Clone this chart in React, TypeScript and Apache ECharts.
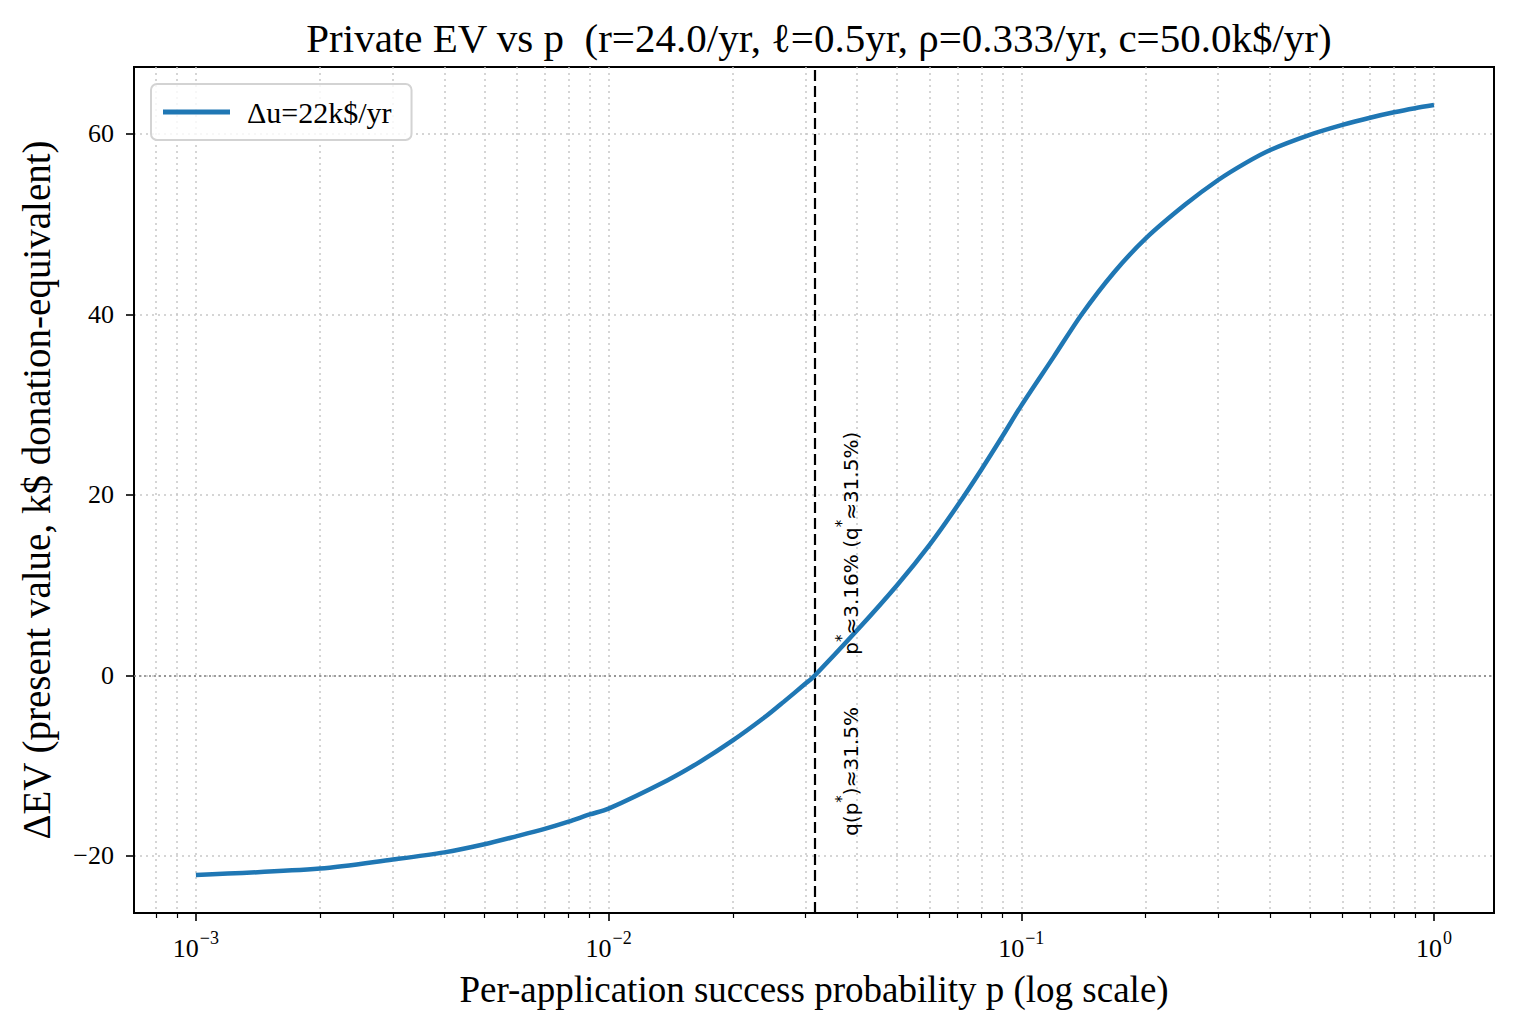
import React, { useEffect, useRef } from 'react';
import * as echarts from 'echarts';

// success probability p and ΔEV (k$)
const P_VALUES = [
  0.001, 0.002, 0.003, 0.004, 0.005, 0.006, 0.007, 0.008, 0.009, 0.01,
  0.0139, 0.0166, 0.02, 0.0241, 0.0266, 0.03, 0.0316, 0.04, 0.05, 0.06,
  0.07, 0.08, 0.09, 0.1, 0.1198, 0.14, 0.1673, 0.2, 0.25, 0.3, 0.35, 0.4,
  0.5, 0.6, 0.7, 0.8, 0.9, 1.0,
];
const DEV_VALUES = [
  -22.1, -21.4, -20.4, -19.6, -18.7, -17.8, -17.0, -16.2, -15.4, -14.75,
  -11.6, -9.6, -7.2, -4.5, -2.9, -0.9, 0.0, 5.0, 10.0, 14.5,
  18.8, 22.8, 26.5, 29.9, 35.3, 40.0, 44.6, 48.4, 52.2, 54.9, 56.8, 58.2,
  59.9, 61.0, 61.8, 62.4, 62.85, 63.2,
];

const SERIES_NAME = 'Δu=22k$/yr';
const X_MAJOR = [0.001, 0.01, 0.1, 1];
const X_MAJOR_EXP = ['−3', '−2', '−1', '0'];
const X_MINOR = [
  0.0008, 0.0009,
  0.002, 0.003, 0.004, 0.005, 0.006, 0.007, 0.008, 0.009,
  0.02, 0.03, 0.04, 0.05, 0.06, 0.07, 0.08, 0.09,
  0.2, 0.3, 0.4, 0.5, 0.6, 0.7, 0.8, 0.9,
];
const Y_TICKS = [-20, 0, 20, 40, 60];
const P_STAR = 0.0316;
const LABEL_P = 0.038;
const LABEL_UP_Y = 2.3;
const LABEL_DOWN_Y = -3.5;

const X_MIN = -3.15;
const X_MAX = 0.1454;
const Y_MIN = -26.32;
const Y_MAX = 67.42;

const SERIF = '"Liberation Serif", "DejaVu Serif", serif';
const BLUE = '#1f77b4';

const App: React.FC = () => {
  const chartRef = useRef<HTMLDivElement>(null);

  useEffect(() => {
    if (!chartRef.current) return;
    const chart = echarts.init(chartRef.current, undefined, { renderer: 'svg' });

    const gridLine = { show: true, lineStyle: { color: '#c8c8c8', width: 1.5, type: [2, 4] as number[] } };
    const minorLog = X_MINOR.map((p) => Math.log10(p));
    const majorLog = X_MAJOR.map((p) => Math.log10(p));

    const option = {
      animation: false,
      backgroundColor: '#ffffff',
      title: {
        text: 'Private EV vs p  (r=24.0/yr, ℓ=0.5yr, ρ=0.333/yr, c=50.0k$/yr)',
        left: 814,
        textAlign: 'center',
        top: 12,
        textStyle: { fontFamily: SERIF, fontSize: 41, fontWeight: 'normal', color: '#000' },
      },
      legend: {
        data: [SERIES_NAME],
        left: 151,
        top: 84,
        padding: [13, 20, 13, 12],
        itemWidth: 67,
        itemHeight: 5,
        itemGap: 10,
        icon: 'rect',
        borderColor: '#d3d3d3',
        borderWidth: 2,
        borderRadius: 6,
        backgroundColor: 'rgba(255,255,255,0.8)',
        textStyle: { fontFamily: SERIF, fontSize: 30, color: '#000', padding: [0, 0, 0, 12] },
      },
      grid: {
        left: 134,
        right: 20,
        top: 67,
        bottom: 119,
        show: true,
        borderColor: '#000',
        borderWidth: 2,
        backgroundColor: 'transparent',
      },
      xAxis: [
        {
          type: 'value',
          position: 'bottom',
          min: X_MIN,
          max: X_MAX,
          name: 'Per-application success probability p (log scale)',
          nameLocation: 'middle',
          nameGap: 58,
          nameTextStyle: { fontFamily: SERIF, fontSize: 37, color: '#000' },
          axisLine: { show: true, onZero: false, lineStyle: { color: '#000', width: 2 } },
          axisTick: { show: true, customValues: majorLog, length: 8, lineStyle: { color: '#000', width: 1.6 } },
          axisLabel: {
            customValues: majorLog,
            margin: 16,
            formatter: (v: number) => {
              const idx = majorLog.findIndex((m) => Math.abs(m - v) < 1e-9);
              return `{b|10}{s|${X_MAJOR_EXP[idx] ?? ''}}`;
            },
            rich: {
              b: { fontFamily: SERIF, fontSize: 26, color: '#000', lineHeight: 32, verticalAlign: 'bottom' },
              s: { fontFamily: SERIF, fontSize: 18, color: '#000', lineHeight: 32, verticalAlign: 'top', padding: [0, 0, 0, 1] },
            },
          },
          splitLine: gridLine,
        },
        {
          type: 'value',
          position: 'bottom',
          min: X_MIN,
          max: X_MAX,
          axisLine: { show: false, onZero: false },
          axisTick: { show: true, customValues: minorLog, length: 5, lineStyle: { color: '#000', width: 1.2 } },
          axisLabel: { show: false },
          splitLine: gridLine,
        },
      ],
      yAxis: {
        type: 'value',
        min: Y_MIN,
        max: Y_MAX,
        name: 'ΔEV (present value, k$ donation-equivalent)',
        nameLocation: 'middle',
        nameGap: 78,
        nameTextStyle: { fontFamily: SERIF, fontSize: 39, color: '#000' },
        axisLine: { show: true, onZero: false, lineStyle: { color: '#000', width: 2 } },
        axisTick: { show: true, customValues: Y_TICKS, length: 8, lineStyle: { color: '#000', width: 1.6 } },
        axisLabel: {
          customValues: Y_TICKS,
          margin: 20,
          fontFamily: SERIF,
          fontSize: 26,
          color: '#000',
          formatter: (v: number) => (v < 0 ? '−' + Math.abs(v) : String(v)),
        },
        splitLine: gridLine,
      },
      series: [
        {
          name: SERIES_NAME,
          type: 'line',
          xAxisIndex: 0,
          data: P_VALUES.map((p, i) => [Math.log10(p), DEV_VALUES[i]]),
          smooth: 0.3,
          showSymbol: false,
          lineStyle: { color: BLUE, width: 4.5 },
          itemStyle: { color: BLUE },
          z: 5,
          markLine: {
            silent: true,
            symbol: 'none',
            label: { show: false },
            data: [
              { yAxis: 0, lineStyle: { color: '#808080', width: 1.6, type: [2, 3] } },
              { xAxis: Math.log10(P_STAR), lineStyle: { color: '#000', width: 2.2, type: [11, 5] } },
            ],
          },
        },
      ],
    };

    chart.setOption(option);

    const lx = Math.log10(LABEL_P);
    const up = chart.convertToPixel({ xAxisIndex: 0, yAxisIndex: 0 }, [lx, LABEL_UP_Y]) as number[];
    const down = chart.convertToPixel({ xAxisIndex: 0, yAxisIndex: 0 }, [lx, LABEL_DOWN_Y]) as number[];
    const rich = {
      a: { fontFamily: '"DejaVu Sans", sans-serif', fontSize: 20, fill: '#000', lineHeight: 26, verticalAlign: 'bottom' },
      s: { fontFamily: '"DejaVu Sans", sans-serif', fontSize: 15, fill: '#000', lineHeight: 26, verticalAlign: 'top' },
    };
    chart.setOption({
      graphic: [
        {
          type: 'text',
          x: up[0],
          y: up[1],
          rotation: Math.PI / 2,
          z: 10,
          style: {
            text: '{a|p}{s|*}{a|≈3.16% (q}{s|*}{a|≈31.5%)}',
            rich,
            align: 'left',
            verticalAlign: 'middle',
          },
        },
        {
          type: 'text',
          x: down[0],
          y: down[1],
          rotation: Math.PI / 2,
          z: 10,
          style: {
            text: '{a|q(p}{s|*}{a|)≈31.5%}',
            rich,
            align: 'right',
            verticalAlign: 'middle',
          },
        },
      ],
    });

    return () => {
      chart.dispose();
    };
  }, []);

  return (
    <div
      ref={chartRef}
      style={{ position: 'absolute', left: 0, top: 0, width: '1514px', height: '1032px' }}
    ></div>
  );
};

export default App;
